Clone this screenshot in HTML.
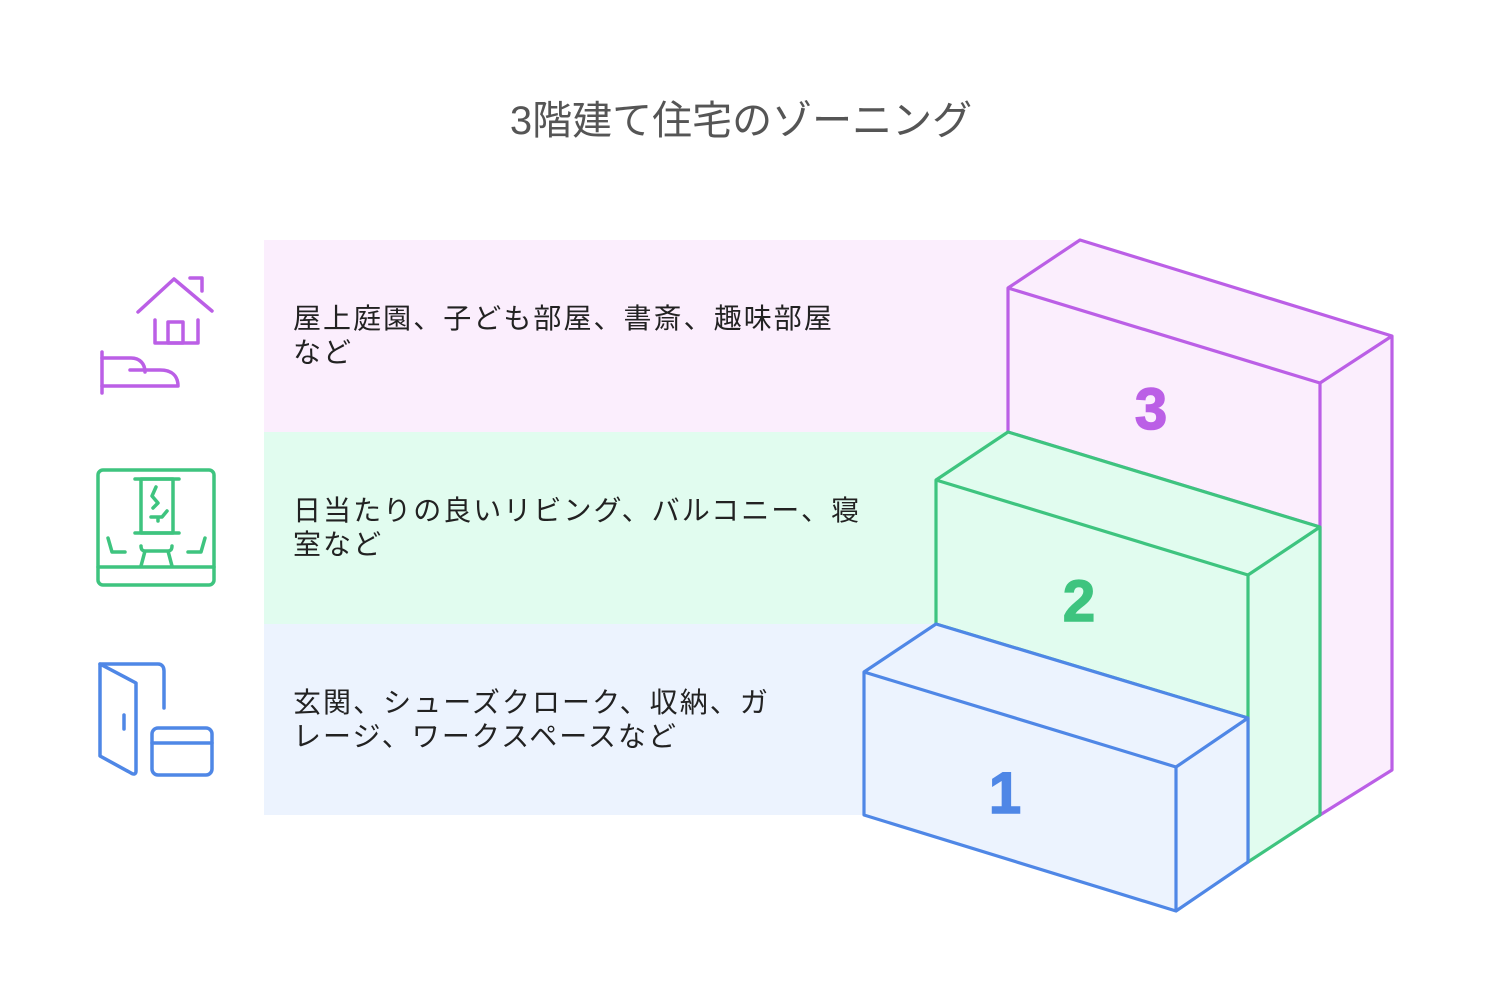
<!DOCTYPE html>
<html><head><meta charset="utf-8"><style>
body{margin:0;width:1488px;height:986px;background:#fff;position:relative;overflow:hidden;font-family:"Liberation Sans","Noto Sans CJK JP",sans-serif;}
.t{position:absolute;left:293px;font-size:28px;letter-spacing:2.05px;line-height:34px;color:#222;white-space:nowrap;}
.title{position:absolute;left:0;width:1482px;top:88px;text-align:center;font-size:40px;color:#555;}
</style></head><body>
<svg width="1488" height="986" style="position:absolute;left:0;top:0">
<rect x="264" y="240" width="816" height="192" fill="#fbeefd"/>
<rect x="264" y="432" width="744" height="192" fill="#e1fcef"/>
<rect x="264" y="624" width="672" height="191" fill="#ecf3fe"/>
<g stroke-width="3.2" stroke-linejoin="round" fill="#fbeefd" stroke="#bb5fe6">
<polygon points="1008,288 1080,240 1392,336 1392,770 1320,815 1320,527 1008,432"/>
<polyline points="1008,288 1320,383 1392,336" fill="none"/>
<line x1="1320" y1="383" x2="1320" y2="527"/>
</g>
<g stroke-width="3.2" stroke-linejoin="round" fill="#e1fcef" stroke="#3ec47f">
<polygon points="936,480 1008,432 1320,527 1320,815 1248,862 1248,718 936,624"/>
<polyline points="936,480 1248,575 1320,527" fill="none"/>
<line x1="1248" y1="575" x2="1248" y2="718"/>
</g>
<g stroke-width="3.2" stroke-linejoin="round" fill="#ecf3fe" stroke="#4f87e6">
<polygon points="864,672 936,624 1248,718 1248,862 1176,911 864,815"/>
<polyline points="864,672 1176,767 1248,718" fill="none"/>
<line x1="1176" y1="767" x2="1176" y2="911"/>
</g>
<g font-family="Liberation Sans,sans-serif" font-weight="bold" font-size="58" text-anchor="middle" stroke-width="1.5">
<text x="1151" y="429" fill="#bb5fe6" stroke="#bb5fe6">3</text>
<text x="1079" y="621" fill="#3ec47f" stroke="#3ec47f">2</text>
<text x="1005" y="813" fill="#4f87e6" stroke="#4f87e6">1</text>
</g>
<g fill="none" stroke="#bb5fe6" stroke-width="3.5" stroke-linecap="round" stroke-linejoin="round">
<polyline points="138,312 174,279 212,311"/>
<polyline points="190,278 202,278 202,291"/>
<polyline points="155,320 155,343 198,343 198,320"/>
<rect x="168" y="322" width="15" height="21"/>
<line x1="102" y1="352" x2="102" y2="393"/>
<path d="M102,386 H178 C178,376 172,370 160,370 H130 M102,358 H131 C140,358 145,364 145,372"/>
</g>
<g fill="none" stroke="#3ec47f" stroke-width="3.5" stroke-linecap="round" stroke-linejoin="round">
<rect x="98" y="470" width="116" height="115" rx="5"/>
<line x1="98" y1="567" x2="214" y2="567"/>
<line x1="135" y1="479" x2="179" y2="479"/>
<line x1="135" y1="533" x2="179" y2="533"/>
<rect x="141" y="479" width="32" height="54"/>
<path d="M156,487 L152,496 L158,503 L153,508 M151,517 H162 L167,511 M158,517 V521"/>
<path d="M108,538 L112,552 H125 M205,538 L201,552 H188"/>
<path d="M141,546 C141,552 145,551 150,551 H163 C168,551 172,552 172,546 M145,551 L141,566 M168,551 L172,566"/>
</g>
<g fill="none" stroke="#4f87e6" stroke-width="3.5" stroke-linecap="round" stroke-linejoin="round">
<path d="M100,664 H158 C162,664 164,667 164,671 V708"/>
<path d="M100,664 L136,683 V771 C136,774 134,775 131,773 L100,756 Z"/>
<line x1="124" y1="715" x2="124" y2="729"/>
<rect x="152" y="728" width="60" height="47" rx="6"/>
<line x1="152" y1="743" x2="212" y2="743"/>
</g>
</svg>
<div class="title">3階建て住宅のゾーニング</div>
<div class="t" style="top:302px">屋上庭園、子ども部屋、書斎、趣味部屋<br>など</div>
<div class="t" style="top:494px">日当たりの良いリビング、バルコニー、寝<br>室など</div>
<div class="t" style="top:686px">玄関、シューズクローク、収納、ガ<br>レージ、ワークスペースなど</div>
</body></html>
